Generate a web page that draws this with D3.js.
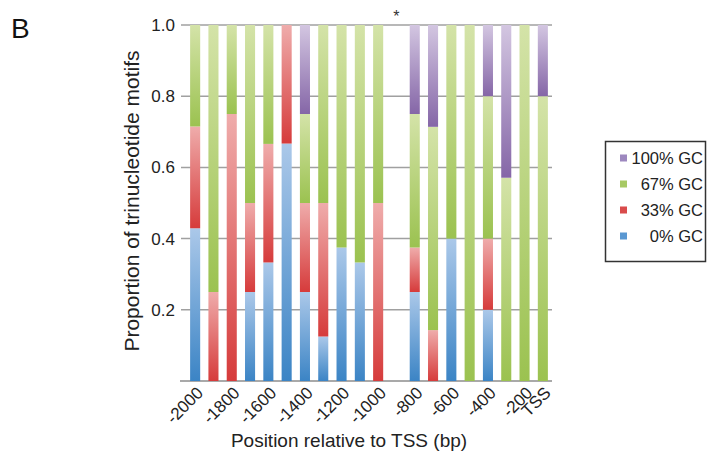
<!DOCTYPE html>
<html><head><meta charset="utf-8">
<script src="https://cdn.jsdelivr.net/npm/d3@7"></script>
<style>body{margin:0;background:#fff}text{font-family:"Liberation Sans",Arial,sans-serif}</style>
</head><body><svg id="c" width="713" height="460"></svg>
<script>
const positions = [-2000,-1900,-1800,-1700,-1600,-1500,-1400,-1300,-1200,-1100,-1000,-900,-800,-700,-600,-500,-400,-300,-200,-100];
const tickLabels = ["-2000","","-1800","","-1600","","-1400","","-1200","","-1000","","-800","","-600","","-400","","-200","TSS"];
const gc0   = [0.429,0,0,0.25,0.333,0.667,0.25,0.125,0.375,0.333,0,0,0.25,0,0.4,0,0.2,0,0,0];
const gc33  = [0.286,0.25,0.75,0.25,0.333,0.333,0.25,0.375,0,0,0.5,0,0.125,0.143,0,0,0.2,0,0,0];
const gc67  = [0.285,0.75,0.25,0.5,0.334,0,0.25,0.5,0.625,0.667,0.5,0,0.375,0.571,0.6,1,0.4,0.571,1,0.8];
const gc100 = [0,0,0,0,0,0,0.25,0,0,0,0,0,0.25,0.286,0,0,0.2,0.429,0,0.2];
const seriesNames = ["0% GC","33% GC","67% GC","100% GC"];
const yTicks = [0.2,0.4,0.6,0.8,1.0];

const svg = d3.select("#c");
const x = d3.scaleBand().domain(positions).range([186,552]).paddingInner(0.45).paddingOuter(0.225);
const y = d3.scaleLinear().domain([0,1]).range([381,25]);

const cols = {
  "0% GC":["#abc8e9","#3b84c5","#5a98d2"],
  "33% GC":["#efacab","#d63b3b","#d94b4b"],
  "67% GC":["#d4e3a8","#9bc250","#a7c964"],
  "100% GC":["#d3c6e1","#8566a7","#9d88bf"]
};
const defs = svg.append("defs");
seriesNames.forEach((s,i)=>{
  const g = defs.append("linearGradient").attr("id","g"+i).attr("x1",0).attr("y1",0).attr("x2",0).attr("y2",1);
  g.append("stop").attr("offset","0%").attr("stop-color",cols[s][0]);
  g.append("stop").attr("offset","100%").attr("stop-color",cols[s][1]);
});

// grid
svg.append("g").selectAll("line").data(yTicks).join("line")
  .attr("x1",181).attr("x2",552).attr("y1",d=>y(d)).attr("y2",d=>y(d))
  .attr("stroke","#a0a0a0").attr("stroke-width",1.5);
svg.append("line").attr("x1",180).attr("x2",552).attr("y1",y(0)).attr("y2",y(0))
  .attr("stroke","#8c8c8c").attr("stroke-width",1.5);

// stacked bars
const rows = positions.map((p,i)=>({pos:p,"0% GC":gc0[i],"33% GC":gc33[i],"67% GC":gc67[i],"100% GC":gc100[i]}));
const stacked = d3.stack().keys(seriesNames)(rows);
stacked.forEach((layer,i)=>{
  svg.append("g").selectAll("rect").data(layer.filter(d=>d[1]-d[0]>0)).join("rect")
    .attr("x",d=>x(d.data.pos)).attr("width",x.bandwidth())
    .attr("y",d=>y(d[1])).attr("height",d=>y(d[0])-y(d[1]))
    .attr("fill","url(#g"+i+")");
});

// y tick labels
svg.append("g").selectAll("text").data(yTicks).join("text")
  .attr("x",175).attr("y",d=>y(d)).attr("dy","0.35em").attr("text-anchor","end")
  .attr("font-size",17).attr("fill","#222").text(d=>d.toFixed(1));

// x tick labels
svg.append("g").selectAll("text").data(positions.map((p,i)=>({p,l:tickLabels[i]})).filter(d=>d.l)).join("text")
  .attr("text-anchor","end").attr("font-size",17).attr("fill","#222")
  .attr("transform",d=>`translate(${x(d.p)+x.bandwidth()/2+9},${394}) rotate(-45)`)
  .text(d=>d.l);

// axis titles
svg.append("text").attr("transform","translate(139,201) rotate(-90)").attr("text-anchor","middle")
  .attr("font-size",21).attr("fill","#222").text("Proportion of trinucleotide motifs");
svg.append("text").attr("x",349).attr("y",447).attr("text-anchor","middle")
  .attr("font-size",19).attr("fill","#222").text("Position relative to TSS (bp)");

// panel letter and asterisk
svg.append("text").attr("x",11).attr("y",38).attr("font-size",28).attr("fill","#111").text("B");
svg.append("text").attr("x",x(-900)+x.bandwidth()/2).attr("y",22).attr("text-anchor","middle")
  .attr("font-size",16).attr("fill","#333").text("*");

// legend
const lg = svg.append("g");
lg.append("rect").attr("x",605.5).attr("y",141.5).attr("width",100).attr("height",120)
  .attr("fill","none").attr("stroke","#333").attr("stroke-width",1.5);
const legendOrder = ["100% GC","67% GC","33% GC","0% GC"];
legendOrder.forEach((s,i)=>{
  const cy = 158 + i*26;
  lg.append("rect").attr("x",620).attr("y",cy-3.5).attr("width",7).attr("height",7).attr("fill",cols[s][2]);
  lg.append("text").attr("x",703).attr("y",cy).attr("dy","0.35em").attr("text-anchor","end")
    .attr("font-size",16.5).attr("fill","#222").text(s);
});
</script></body></html>
